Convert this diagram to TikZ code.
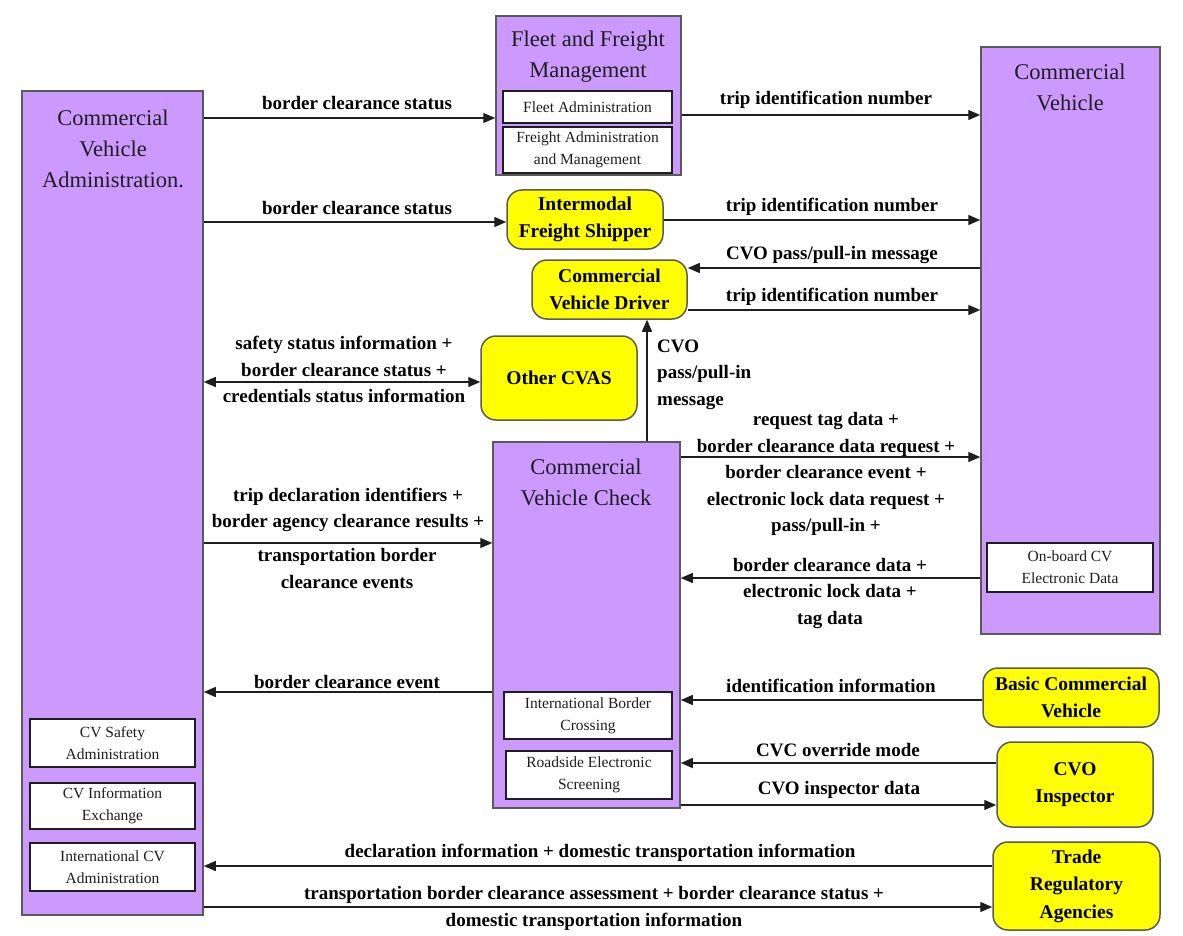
\documentclass[tikz,border=0pt]{standalone}
\usepackage{fontspec}
\setmainfont{Liberation Serif}[BoldFont={Liberation Serif Bold}]
\usetikzlibrary{arrows.meta}

\definecolor{cvpurple}{RGB}{204,153,255}
\definecolor{cvyellow}{RGB}{255,255,0}
\definecolor{edgegray}{RGB}{90,90,90}
\definecolor{inkgray}{RGB}{30,30,30}

\newcommand{\cvTitleFont}{\fontsize{22.5}{31}\selectfont}
\newcommand{\cvSubFont}{\fontsize{15.5}{22}\selectfont}
\newcommand{\cvYFont}{\fontsize{19.5}{27.5}\selectfont\bfseries}
\newcommand{\cvLabFont}{\fontsize{19}{26.5}\selectfont\bfseries}

\begin{document}
\begin{tikzpicture}[x=1pt,y=-1pt,
  >={Triangle[length=12pt,width=10pt]},
  pbox/.style={draw=edgegray, line width=1.5pt, fill=cvpurple, inner sep=0pt},
  subbox/.style={draw=inkgray, line width=1.6pt, fill=white, inner sep=0pt,
    font=\cvSubFont, align=center, text=inkgray},
  ybox/.style={draw=edgegray, line width=1.5pt, fill=cvyellow, rounded corners=15pt,
    inner sep=0pt, font=\cvYFont, align=center},
  boxtitle/.style={font=\cvTitleFont, align=center, text=inkgray, inner sep=0pt},
  lab/.style={font=\cvLabFont, align=center, inner sep=0pt},
  arr/.style={draw=inkgray, line width=1.3pt, ->},
  darr/.style={draw=inkgray, line width=1.3pt, <->}]

\useasboundingbox[fill=white] (0,0) rectangle (1183,936);

% ---- main subsystem boxes ----
\node[pbox, minimum width=181pt, minimum height=824pt] (cva) at (112.5,503) {};
\node[boxtitle] (cva-t) at (113,148.5) {Commercial\\Vehicle\\Administration.};
\node[subbox, minimum width=165pt, minimum height=48pt] (csa) at (112.5,743) {CV Safety\\Administration};
\node[subbox, minimum width=165pt, minimum height=46pt] (cie) at (112.5,806) {CV Information\\Exchange};
\node[subbox, minimum width=165pt, minimum height=48pt] (icv) at (112.5,867) {International CV\\Administration};

\node[pbox, minimum width=185pt, minimum height=159pt] (ffm) at (588.5,95.5) {};
\node[boxtitle] (ffm-t) at (588,57) {Fleet and Freight\\Management};
\node[subbox, minimum width=169pt, minimum height=32pt] (fa) at (587.5,107) {Fleet Administration};
\node[subbox, minimum width=169pt, minimum height=46pt] (fam) at (587.5,150) {Freight Administration\\and Management};

\node[pbox, minimum width=179pt, minimum height=587pt] (cv) at (1070.5,340.5) {};
\node[boxtitle] (cv-t) at (1070,87) {Commercial\\Vehicle};
\node[subbox, minimum width=166pt, minimum height=49pt] (obd) at (1070,567.5) {On-board CV\\Electronic Data};

\node[pbox, minimum width=187pt, minimum height=366pt] (cvc) at (586.5,625) {};
\node[boxtitle] (cvc-t) at (586,482.5) {Commercial\\Vehicle Check};
\node[subbox, minimum width=168pt, minimum height=47pt] (ibc) at (588,715.5) {International Border\\Crossing};
\node[subbox, minimum width=166pt, minimum height=48pt] (res) at (589,775) {Roadside Electronic\\Screening};

% ---- terminators ----
\node[ybox, minimum width=156pt, minimum height=59pt] (ifs) at (585,219.5) {Intermodal\\Freight Shipper};
\node[ybox, minimum width=155pt, minimum height=59pt] (cvd) at (609.5,289.5) {Commercial\\Vehicle Driver};
\node[ybox, minimum width=156pt, minimum height=84pt] (ocv) at (559,378) {Other CVAS};
\node[ybox, minimum width=176pt, minimum height=59pt] (bcv) at (1071,697.5) {Basic Commercial\\Vehicle};
\node[ybox, minimum width=156pt, minimum height=85pt] (cvo) at (1075,784.5) {CVO\\Inspector};
\node[ybox, minimum width=167pt, minimum height=88pt] (tra) at (1076.5,886) {Trade\\Regulatory\\Agencies};

% ---- flows ----
\draw[arr] (cva.east |- 0,118) -- (ffm.west |- 0,118);
\draw[arr] (ffm.east |- 0,115) -- (cv.west |- 0,115);
\draw[arr] (cva.east |- 0,222) -- (ifs.west |- 0,222);
\draw[arr] (ifs.east |- 0,220) -- (cv.west |- 0,220);
\draw[arr] (cv.west |- 0,268) -- (cvd.east |- 0,268);
\draw[arr] (cvd.east |- 0,310) -- (cv.west |- 0,310);
\draw[darr] (cva.east |- 0,382) -- (ocv.west |- 0,382);
\draw[arr] (cvc.north -| 647,0) -- (cvd.south -| 647,0);
\draw[arr] (cvc.east |- 0,457) -- (cv.west |- 0,457);
\draw[arr] (cv.west |- 0,578) -- (cvc.east |- 0,578);
\draw[arr] (cva.east |- 0,543) -- (cvc.west |- 0,543);
\draw[arr] (cvc.west |- 0,692) -- (cva.east |- 0,692);
\draw[arr] (bcv.west |- 0,700) -- (cvc.east |- 0,700);
\draw[arr] (cvo.west |- 0,763) -- (cvc.east |- 0,763);
\draw[arr] (cvc.east |- 0,805) -- (cvo.west |- 0,805);
\draw[arr] (tra.west |- 0,866) -- (cva.east |- 0,866);
\draw[arr] (cva.east |- 0,907) -- (tra.west |- 0,907);

% ---- flow labels ----
\node[lab] (l1) at (357,103) {border clearance status};
\node[lab] (l2) at (826,100) {trip identification number};
\node[lab] (l3) at (357,208) {border clearance status};
\node[lab] (l4) at (832,207) {trip identification number};
\node[lab] (l5) at (832,255) {CVO pass/pull-in message};
\node[lab] (l6) at (832,297) {trip identification number};
\node[lab] (l7) at (344,369.5) {safety status information +\\border clearance status +\\credentials status information};
\node[lab, align=left, anchor=west] (l8) at (657,374.5) {CVO\\pass/pull-in\\message};
\node[lab] (l9) at (826,474) {request tag data +\\border clearance data request +\\border clearance event +\\electronic lock data request +\\pass/pull-in +};
\node[lab] (l10) at (830,593) {border clearance data +\\electronic lock data +\\tag data};
\node[lab] (l11a) at (348,510) {trip declaration identifiers +\\border agency clearance results +};
\node[lab] (l11b) at (347,568.5) {transportation border\\clearance events};
\node[lab] (l12) at (347,682) {border clearance event};
\node[lab] (l13) at (831,686) {identification information};
\node[lab] (l14) at (838,750) {CVC override mode};
\node[lab] (l15) at (839,790) {CVO inspector data};
\node[lab] (l16) at (600,853) {declaration information + domestic transportation information};
\node[lab] (l17a) at (594,895) {transportation border clearance assessment + border clearance status +};
\node[lab] (l17b) at (594,922) {domestic transportation information};

\end{tikzpicture}
\end{document}
